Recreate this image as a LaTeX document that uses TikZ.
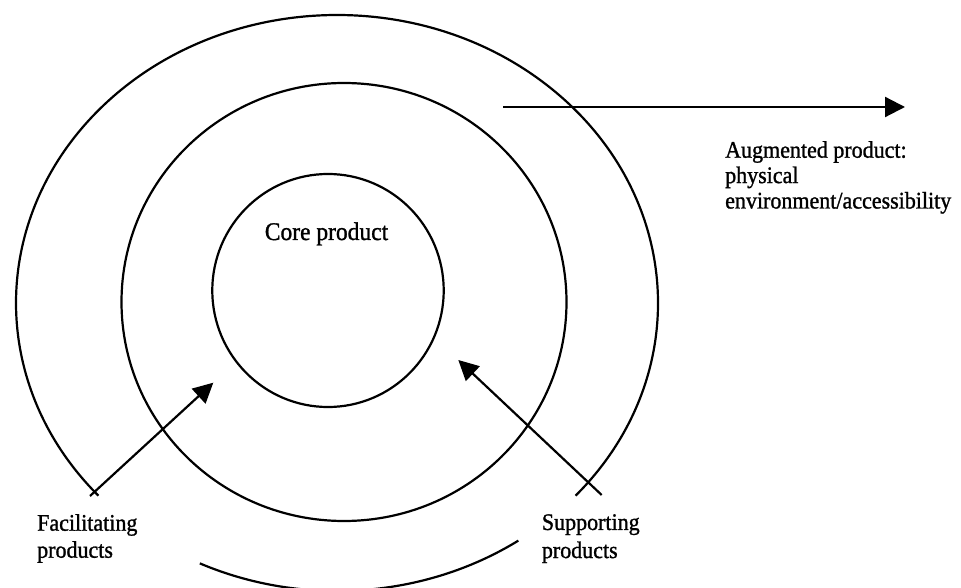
\documentclass[tikz,border=0pt]{standalone}
\usepackage{fontspec}
\setmainfont{Liberation Serif}
\newfontfamily\heavyserif{Liberation Serif}[FakeBold=1.2]
\usetikzlibrary{arrows.meta}

\begin{document}
\begin{tikzpicture}[x=1pt,y=1pt,
  ring/.style={draw=black, line width=2.2pt},
  pointer/.style={draw=black, line width=2.2pt, -{Triangle[length=20pt,width=20pt]}},
  label/.style={inner sep=0pt, align=left, yscale=1.08, transform shape},
]
  % canvas
  \fill[white] (0,0) rectangle (961,-588);
  \useasboundingbox (0,0) rectangle (961,-588);

  % ring centres
  \coordinate (outerC) at (337,-303);
  \coordinate (midC)   at (344,-302);
  \coordinate (coreC)  at (328,-290.5);

  % core and middle rings
  \draw[ring] (coreC) ellipse [x radius=115.7, y radius=116.5];
  \draw[ring] (midC) ellipse [x radius=222.5, y radius=219];

  % outer ring: main arc over the top, plus a short piece at the bottom
  \draw[ring] ([shift={(-42:321 and 288)}]outerC)
      arc[start angle=-42, end angle=222, x radius=321, y radius=288];
  \draw[ring] ([shift={(-115.3:321 and 288)}]outerC)
      arc[start angle=-115.3, end angle=-55.6, x radius=321, y radius=288];

  % arrow end points
  \coordinate (facTail) at (90,-496);
  \coordinate (facTip)  at (213.3,-382.7);
  \coordinate (supTail) at (601.7,-495);
  \coordinate (supTip)  at (458.3,-360);
  \coordinate (augTail) at (503,-107);
  \coordinate (augTip)  at (905,-107);

  \draw[pointer] (facTail) -- (facTip);
  \draw[pointer] (supTail) -- (supTip);
  \draw[pointer] (augTail) -- (augTip);

  % labels
  \node[label, anchor=base, font=\heavyserif\fontsize{23.5}{26}\selectfont]
      (core) at (326.5,-240) {Core product};
  \node[label, anchor=north west, font=\heavyserif\fontsize{22}{23.5}\selectfont]
      (aug) at (725,-141) {Augmented product:\\physical\\environment/accessibility};
  \node[label, anchor=north west, font=\heavyserif\fontsize{22}{25}\selectfont]
      (fac) at (37,-514) {Facilitating\\products};
  \node[label, anchor=north west, font=\heavyserif\fontsize{22}{26}\selectfont]
      (sup) at (541.7,-514) {Supporting\\products};
\end{tikzpicture}
\end{document}
